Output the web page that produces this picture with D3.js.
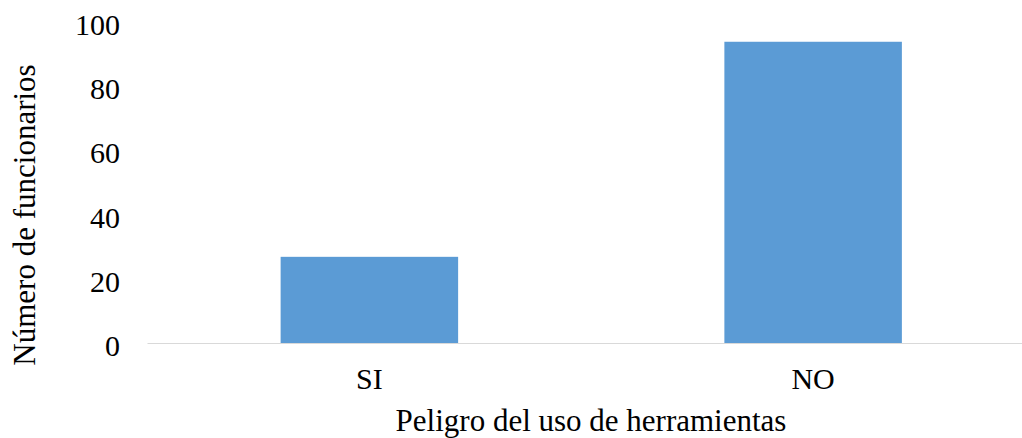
<!DOCTYPE html>
<html>
<head>
<meta charset="utf-8">
<script src="https://cdn.jsdelivr.net/npm/d3@7"></script>
<style>
  html, body { margin: 0; padding: 0; background: #ffffff; }
  svg { display: block; }
</style>
</head>
<body>
<script>
const categories = ["SI", "NO"];
const values = [27, 94];
const yTicks = [0, 20, 40, 60, 80, 100];
const xTitle = "Peligro del uso de herramientas";
const yTitle = "Número de funcionarios";

const W = 1022, H = 438;
const FONT = "Times New Roman, Liberation Serif, DejaVu Serif, serif";

const svg = d3.select("body").append("svg")
  .attr("width", W).attr("height", H)
  .style("font-family", FONT);

const x = d3.scaleBand()
  .domain(categories)
  .range([147.5, 1035])
  .paddingInner(0.6)
  .paddingOuter(0.3);

const y = d3.scaleLinear()
  .domain([0, 100])
  .range([343.5, 22.5]);

// bars
svg.append("g").selectAll("rect")
  .data(categories.map((c, i) => ({ c, v: values[i] })))
  .join("rect")
  .attr("x", d => x(d.c))
  .attr("width", x.bandwidth())
  .attr("y", d => y(d.v))
  .attr("height", d => y(0) - y(d.v))
  .attr("fill", "#5b9bd5");

// x axis line
svg.append("line")
  .attr("x1", 147.5).attr("x2", 1035)
  .attr("y1", y(0)).attr("y2", y(0))
  .attr("stroke", "#d9d9d9").attr("stroke-width", 1);

// y tick labels
const yAxis = d3.axisLeft(y).tickValues(yTicks).tickSize(0).tickPadding(0);
const gy = svg.append("g").attr("transform", "translate(120,0)").call(yAxis);
gy.attr("font-family", null).attr("font-size", null);
gy.select(".domain").remove();
gy.selectAll("text")
  .style("font-family", FONT)
  .style("font-size", "30px")
  .attr("fill", "#000")
  .attr("dy", "0.4em")
  .attr("x", 0);

// x tick labels
const xAxis = d3.axisBottom(x).tickSize(0).tickPadding(0);
const gx = svg.append("g").attr("transform", `translate(0,${y(0)})`).call(xAxis);
gx.attr("font-family", null).attr("font-size", null);
gx.select(".domain").remove();
gx.selectAll("text")
  .style("font-family", FONT)
  .style("font-size", "30px")
  .attr("fill", "#000")
  .attr("dy", 0)
  .attr("y", 45);

// x title
svg.append("text")
  .attr("x", 591)
  .attr("y", 431)
  .attr("text-anchor", "middle")
  .style("font-family", FONT)
  .style("font-size", "31px")
  .attr("fill", "#000")
  .text(xTitle);

// y title
svg.append("text")
  .attr("transform", "translate(35,215) rotate(-90)")
  .attr("text-anchor", "middle")
  .style("font-family", FONT)
  .style("font-size", "31px")
  .attr("fill", "#000")
  .text(yTitle);
</script>
</body>
</html>
